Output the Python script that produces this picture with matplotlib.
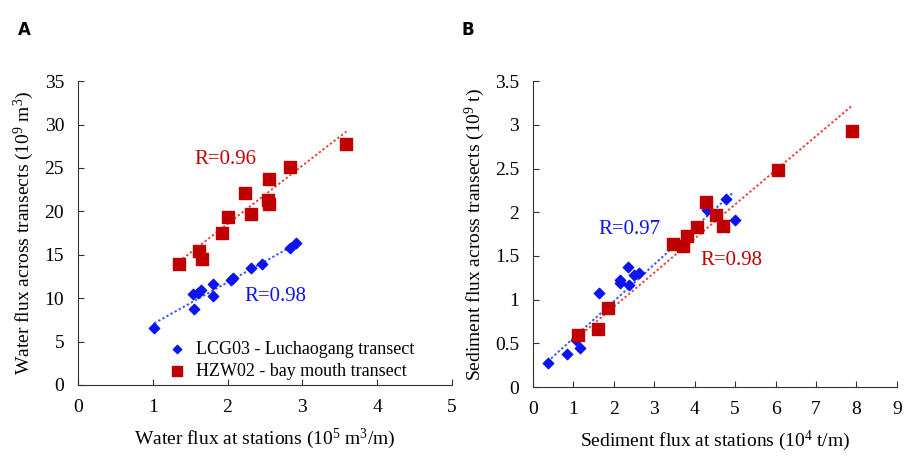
import matplotlib.pyplot as plt

# Panel A: water flux
wa_lcg_x = [1.02, 1.55, 1.54, 1.60, 1.64, 1.80, 1.81, 2.05, 2.07, 2.31, 2.46, 2.84, 2.92]
wa_lcg_y = [6.6, 8.8, 10.5, 10.6, 10.9, 11.6, 10.2, 12.1, 12.3, 13.5, 13.9, 15.8, 16.4]
wa_hzw_x = [1.35, 1.62, 1.66, 1.93, 2.01, 2.24, 2.32, 2.54, 2.56, 2.56, 2.84, 3.59]
wa_hzw_y = [13.9, 15.4, 14.5, 17.5, 19.3, 22.1, 19.7, 21.3, 20.8, 23.7, 25.1, 27.8]
wa_lcg_fit = ([1.02, 2.95], [7.1, 16.4])
wa_hzw_fit = ([1.35, 3.59], [14.2, 29.2])

# Panel B: sediment flux
se_lcg_x = [0.36, 0.83, 1.15, 1.06, 1.62, 2.14, 2.15, 2.34, 2.37, 2.50, 2.63, 4.30, 4.77, 5.00]
se_lcg_y = [0.28, 0.38, 0.45, 0.54, 1.07, 1.23, 1.19, 1.37, 1.17, 1.28, 1.31, 2.02, 2.15, 1.91]
se_hzw_x = [1.12, 1.60, 1.85, 3.47, 3.72, 3.82, 4.05, 4.28, 4.52, 4.69, 6.07, 7.90]
se_hzw_y = [0.60, 0.66, 0.90, 1.64, 1.61, 1.73, 1.83, 2.12, 1.97, 1.84, 2.48, 2.93]
se_lcg_fit = ([0.36, 4.96], [0.29, 2.23])
se_hzw_fit = ([1.12, 7.87], [0.575, 3.21])

blue = '#0a14f0'
red = '#c00000'
blue_line = '#3a55f0'
red_line = '#e8453c'

plt.rcParams['font.family'] = ['Liberation Serif', 'DejaVu Serif']
plt.rcParams['mathtext.fontset'] = 'custom'
plt.rcParams['mathtext.rm'] = 'Liberation Serif'
plt.rcParams['mathtext.default'] = 'regular'

fig = plt.figure(figsize=(9.05, 4.61), dpi=100)
ax1 = fig.add_axes([0.0862, 0.165, 0.413, 0.659])
ax2 = fig.add_axes([0.589, 0.1605, 0.402, 0.6635])

for ax in (ax1, ax2):
    ax.spines['top'].set_visible(False)
    ax.spines['right'].set_visible(False)
    ax.spines['left'].set_color('#333333')
    ax.spines['bottom'].set_color('#333333')
    ax.tick_params(direction='in', length=4, color='#333333', labelsize=14, pad=10)

# A
ax1.plot(*wa_lcg_fit, linestyle=(0, (1.2, 1.2)), color=blue_line, lw=1.4)
ax1.plot(*wa_hzw_fit, linestyle=(0, (1.2, 1.2)), color=red_line, lw=1.4)
ax1.scatter(wa_lcg_x, wa_lcg_y, marker='D', s=28, color=blue, zorder=3,
            label='LCG03 - Luchaogang transect')
ax1.scatter(wa_hzw_x, wa_hzw_y, marker='s', s=70, color=red, zorder=3,
            label='HZW02 - bay mouth transect')
ax1.text(1.55, 26.0, 'R=0.96', color=red, fontsize=15, va='center')
ax1.text(2.23, 10.2, 'R=0.98', color=blue, fontsize=15, va='center')
ax1.set_xlim(0, 5)
ax1.set_ylim(0, 35)
ax1.set_xticks(range(0, 6))
ax1.set_yticks(range(0, 36, 5))
ax1.set_xlabel('Water flux at stations (10$^5$ m$^3$/m)', fontsize=14, labelpad=8)
ax1.set_ylabel('Water flux across transects (10$^9$ m$^3$)', fontsize=14, labelpad=6)
ax1.legend(loc='lower right', bbox_to_anchor=(0.93, -0.02), frameon=False,
           fontsize=13, handletextpad=0.1, labelspacing=0.3, borderaxespad=0.2,
           markerscale=0.8)

# B
ax2.plot(*se_lcg_fit, linestyle=(0, (1.2, 1.2)), color=blue_line, lw=1.4)
ax2.plot(*se_hzw_fit, linestyle=(0, (1.2, 1.2)), color=red_line, lw=1.4)
ax2.scatter(se_lcg_x, se_lcg_y, marker='D', s=28, color=blue, zorder=3)
ax2.scatter(se_hzw_x, se_hzw_y, marker='s', s=70, color=red, zorder=3)
ax2.text(1.61, 1.80, 'R=0.97', color=blue, fontsize=15, va='center')
ax2.text(4.13, 1.45, 'R=0.98', color=red, fontsize=15, va='center')
ax2.set_xlim(0, 9)
ax2.set_ylim(0, 3.5)
ax2.set_xticks(range(0, 10))
ax2.set_yticks([0, 0.5, 1, 1.5, 2, 2.5, 3, 3.5])
ax2.set_yticklabels(['0', '0.5', '1', '1.5', '2', '2.5', '3', '3.5'])
ax2.set_xlabel('Sediment flux at stations (10$^4$ t/m)', fontsize=14, labelpad=8)
ax2.set_ylabel('Sediment flux across transects (10$^9$ t)', fontsize=14, labelpad=6)

fig.text(0.02, 0.955, 'A', fontsize=12, fontweight='bold', family='DejaVu Sans', va='top')
fig.text(0.51, 0.955, 'B', fontsize=12, fontweight='bold', family='DejaVu Sans', va='top')

fig.savefig('out.png', dpi=100)
